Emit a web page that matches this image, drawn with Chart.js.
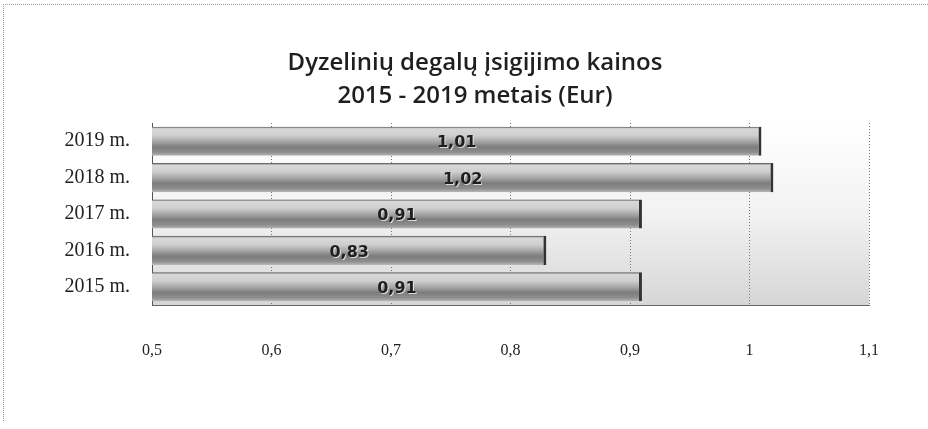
<!DOCTYPE html>
<html>
<head>
<meta charset="utf-8">
<script src="https://cdn.jsdelivr.net/npm/chart.js@4/dist/chart.umd.min.js"></script>
<style>
    body { margin: 0; background: #fff; }
    #wrap { position: relative; width: 928px; height: 429px; }
    #frame { position: absolute; left: 3px; top: 4px; right: 0; bottom: 8px;
             border-top: 1px dotted #999; border-left: 1px dotted #999; pointer-events: none; }
</style>
</head>
<body>
<div id="wrap">
    <canvas id="fuelChart" width="928" height="429"></canvas>
    <div id="frame"></div>
</div>
<script>
const titleLines = ["Dyzelinių degalų įsigijimo kainos", "2015 - 2019 metais (Eur)"];
const years = ["2019 m.", "2018 m.", "2017 m.", "2016 m.", "2015 m."];
const prices = [1.01, 1.02, 0.91, 0.83, 0.91];
const axisMin = 0.5;
const axisMax = 1.1;
const axisStep = 0.1;

function comma(v) {
    return String(Math.round(v * 100) / 100).replace(".", ",");
}

// soft gray fill behind the plot, like the scanned Excel background
const plotBackground = {
    id: "plotBackground",
    beforeDraw(chart) {
        const {ctx, chartArea: a} = chart;
        const g = ctx.createLinearGradient(0, a.top, 0, a.bottom);
        g.addColorStop(0, "#ffffff");
        g.addColorStop(0.5, "#f2f2f2");
        g.addColorStop(1, "#d6d6d6");
        ctx.save();
        ctx.fillStyle = g;
        ctx.fillRect(a.left, a.top, a.right - a.left, a.bottom - a.top);
        ctx.strokeStyle = "#666";
        ctx.setLineDash([1, 2]);
        ctx.beginPath();
        ctx.moveTo(a.right + 0.5, a.top);
        ctx.lineTo(a.right + 0.5, a.bottom);
        ctx.stroke();
        ctx.restore();
    }
};

// value written in the middle of each bar
const barValues = {
    id: "barValues",
    afterDatasetsDraw(chart) {
        const {ctx} = chart;
        const meta = chart.getDatasetMeta(0);
        const start = chart.scales.x.getPixelForValue(axisMin);
        ctx.save();
        ctx.font = "bold 16px 'DejaVu Sans'";
        ctx.textAlign = "center";
        ctx.textBaseline = "middle";
        meta.data.forEach((bar, i) => {
            const x = (bar.x + start) / 2;
            ctx.fillStyle = "rgba(255,255,255,0.7)";
            ctx.fillText(comma(prices[i]), x + 1, bar.y + 3);
            ctx.fillStyle = "#1e1e1e";
            ctx.fillText(comma(prices[i]), x, bar.y + 2);
        });
        ctx.restore();
    }
};

function cylinder(context) {
    const chart = context.chart;
    const y = chart.scales.y;
    if (!chart.chartArea || !y || !y.height) return "#a0a0a0";
    const c = y.getPixelForValue(context.dataIndex);
    const half = (y.height / years.length) * 0.8 / 2;
    const g = chart.ctx.createLinearGradient(0, c - half, 0, c + half);
    g.addColorStop(0, "#4a4a4a");
    g.addColorStop(0.07, "#d8d8d8");
    g.addColorStop(0.3, "#cfcfcf");
    g.addColorStop(0.5, "#a8a8a8");
    g.addColorStop(0.7, "#7c7c7c");
    g.addColorStop(0.88, "#8e8e8e");
    g.addColorStop(1, "#b8b8b8");
    return g;
}

const fuelChart = new Chart(document.getElementById("fuelChart"), {
    type: "bar",
    data: {
        labels: years,
        datasets: [{
            data: prices,
            backgroundColor: cylinder,
            borderColor: "#333",
            borderWidth: {top: 0, right: 3, bottom: 0, left: 0},
            borderSkipped: false,
            barPercentage: 0.8,
            categoryPercentage: 1,
            yAxisID: "y"
        }]
    },
    options: {
        indexAxis: "y",
        responsive: false,
        animation: false,
        layout: {padding: {top: 47, left: 22, right: 0, bottom: 69}},
        plugins: {
            legend: {display: false},
            tooltip: {enabled: false},
            title: {
                display: true,
                text: titleLines,
                color: "#1f1f1f",
                font: {family: "'Open Sans'", size: 24, weight: "600", lineHeight: 1.375},
                padding: {top: 0, bottom: 10}
            }
        },
        scales: {
            x: {
                min: axisMin,
                max: axisMax,
                afterFit: scale => { scale.height = 55; },
                ticks: {
                    stepSize: axisStep,
                    padding: 36,
                    color: "#222",
                    font: {family: "'Liberation Serif'", size: 16},
                    callback: v => comma(v)
                },
                grid: {color: "#777", drawTicks: false},
                border: {display: true, color: "#666", dash: [1, 2]}
            },
            y: {
                afterFit: scale => { scale.width = 130; },
                ticks: {
                    padding: 22,
                    color: "#222",
                    font: {family: "'Liberation Serif'", size: 20}
                },
                grid: {display: false, drawTicks: false},
                border: {display: true, color: "#555", dash: [1, 2]}
            },
            // empty strip on the right so the title centres like the original
            spacer: {
                type: "category",
                labels: years,
                position: "right",
                afterFit: scale => { scale.width = 59; },
                ticks: {display: false},
                grid: {display: false, drawTicks: false},
                border: {display: false}
            }
        }
    },
    plugins: [plotBackground, barValues]
});
</script>
</body>
</html>
